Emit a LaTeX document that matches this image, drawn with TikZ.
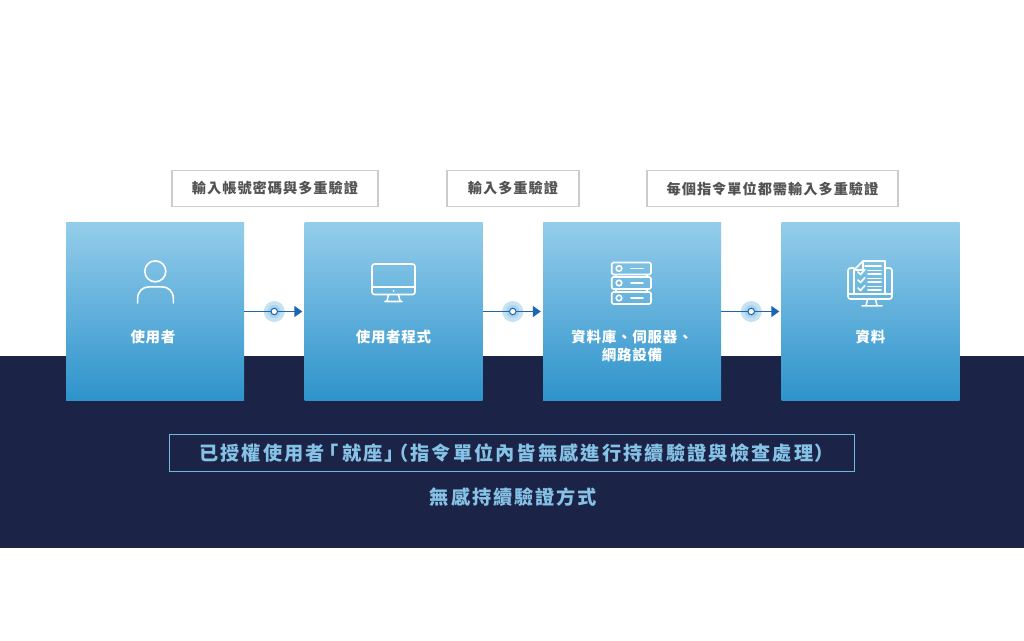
\documentclass[tikz,border=0pt]{standalone}
\usepackage{fontspec}
\usepackage{xcolor}
\usetikzlibrary{arrows.meta,calc,positioning}
\newfontfamily\cjktag[LetterSpace=7]{Noto Sans CJK TC}
\newfontfamily\cjkbox[LetterSpace=5]{Noto Sans CJK TC}
\newfontfamily\cjkbig[LetterSpace=10,RawFeature=+palt]{Noto Sans CJK TC}
\newfontfamily\cjkframe[LetterSpace=11,RawFeature=+palt]{Noto Sans CJK TC}
\definecolor{navyband}{HTML}{1B2346}
\definecolor{boxtop}{HTML}{94CDEB}
\definecolor{boxbottom}{HTML}{2E93CB}
\definecolor{linkblue}{HTML}{1B65B2}
\definecolor{haloblue}{HTML}{C6E1F2}
\definecolor{haloinner}{HTML}{A9D3EC}
\definecolor{framesky}{HTML}{74B7DE}
\definecolor{textsky}{HTML}{86C2E6}
\tikzset{%
	stage/.style      = {rectangle, minimum width = 178pt, minimum height = 178pt, top color=boxtop, bottom color=boxbottom},
	stagelabel/.style = {text=white, align=center, font=\cjkbox\fontsize{14.5}{18}\selectfont\bfseries},
	tag/.style        = {draw=black!20, line width=1.8pt, fill=white, minimum height = 36pt, text=black!68, font=\cjktag\fontsize{14.2}{16}\selectfont\bfseries},
	frame/.style      = {draw=framesky, line width=1.8pt, minimum height = 37pt, minimum width = 685pt, text=textsky, font=\cjkframe\fontsize{19.2}{22}\selectfont\bfseries},
	caption/.style    = {text=textsky, font=\cjkbig\fontsize{19.2}{22}\selectfont\bfseries},
	link/.style       = {draw=linkblue, line width=1.6pt, -{Triangle[length=8pt,width=11pt]}, shorten >=2pt},
	halo/.style       = {circle, inner sep=0pt, minimum size=21pt, fill=haloblue},
	haloin/.style     = {circle, inner sep=0pt, minimum size=13pt, fill=haloinner},
	waypoint/.style   = {circle, inner sep=0pt, minimum size=6.5pt, fill=white, draw=linkblue, line width=1pt},
	icon/.style       = {draw=white, line width=1.6pt, line cap=round, line join=round},
}
\begin{document}
\begin{tikzpicture}[x=1pt, y=-1pt, node distance = 238.5pt]
	\useasboundingbox (0,0) rectangle (1024,640);
	\fill[white] (0,0) rectangle (1024,640);
	\fill[navyband] (0,356) rectangle (1024,547.5);

	\node[stage] (user) at (155,311.5) {};
	\node[stage, right of=user] (app) {};
	\node[stage, right of=app] (server) {};
	\node[stage, right of=server] (data) {};

	\node[stagelabel, below of=user, node distance = 25.5pt, xshift=-2pt] (userlabel) {使用者};
	\node[stagelabel, below of=app, node distance = 25.5pt] (applabel) {使用者程式};
	\node[stagelabel, below of=server, node distance = 34.5pt] (serverlabel) {資料庫、伺服器、\\網路設備};
	\node[stagelabel, below of=data, node distance = 25.5pt] (datalabel) {資料};

	\node[tag, minimum width = 206pt] (tagone) at (275,188.5) {輸入帳號密碼與多重驗證};
	\node[tag, minimum width = 132pt] (tagtwo) at (513,188.5) {輸入多重驗證};
	\node[tag, minimum width = 251pt] (tagthree) at (772.5,188.5) {每個指令單位都需輸入多重驗證};

	\foreach \from/\to in {user/app,app/server,server/data}{
		\node[halo] at ($(\from)!0.5!(\to)$) {};
		\node[haloin] at ($(\from)!0.5!(\to)$) {};
	}
	\draw[link] (user) -- node[waypoint] (dotone) {} (app);
	\draw[link] (app) -- node[waypoint] (dottwo) {} (server);
	\draw[link] (server) -- node[waypoint] (dotthree) {} (data);

	\node[frame] (claim) at (512,453) {已授權使用者\kern4pt「\kern4pt就座」\kern4pt（指令單位內皆無感進行持續驗證與檢查處理）};
	\node[caption] (method) at (513.5,497) {無感持續驗證方式};

	% person
	\draw[icon] (155.3,271.3) circle (10.5);
	\draw[icon] (137.6,303) -- (137.6,299) .. controls (137.6,291) and (143,286.8) .. (149,286.8) -- (162,286.8) .. controls (168,286.8) and (173.4,291) .. (173.4,299) -- (173.4,303);
	% screen
	\draw[icon, rounded corners=2.5pt] (372,264) rectangle (415,294.5);
	\draw[icon] (372,286.7) -- (415,286.7);
	\fill[white] (393.5,291) circle (1);
	\draw[icon] (388.5,295) -- (386.8,301.5) (398.5,295) -- (400.2,301.5) (385,301.5) -- (402,301.5);
	% racks
	\foreach \rowy in {262.5,277,292}{
		\draw[icon, rounded corners=1.5pt] (611.7,\rowy) rectangle (651,\rowy+12);
		\draw[icon] (619,\rowy+6) circle (2.8);
		\draw[icon] (631,\rowy+6) -- (643,\rowy+6);
	}
	\draw[icon] (616,274.5) -- (616,277) (647,274.5) -- (647,277) (616,289) -- (616,292) (647,289) -- (647,292);
	% checklist on a screen
	\draw[icon, rounded corners=2.5pt] (854,268) -- (848,268) -- (848,299) -- (892,299) -- (892,268) -- (885,268);
	\draw[icon] (848,294) -- (892,294);
	\draw[icon] (867.5,299.5) -- (866,305.5) (875.5,299.5) -- (877,305.5) (862,305.8) -- (882,305.8);
	\draw[icon] (854,294) -- (854,270) -- (863,261) -- (885,261) -- (885,294);
	\draw[icon] (854,270) -- (863,270) -- (863,261);
	\draw[icon] (865,266) -- (881,266);
	\foreach \rowy in {272,280,288}{
		\draw[icon] (858,\rowy) -- (860.5,\rowy+2.5) -- (865,\rowy-2.5);
		\draw[icon] (868,\rowy-1.5) -- (881,\rowy-1.5);
		\draw[icon] (868,\rowy+2) -- (881,\rowy+2);
	}
\end{tikzpicture}
\end{document}
